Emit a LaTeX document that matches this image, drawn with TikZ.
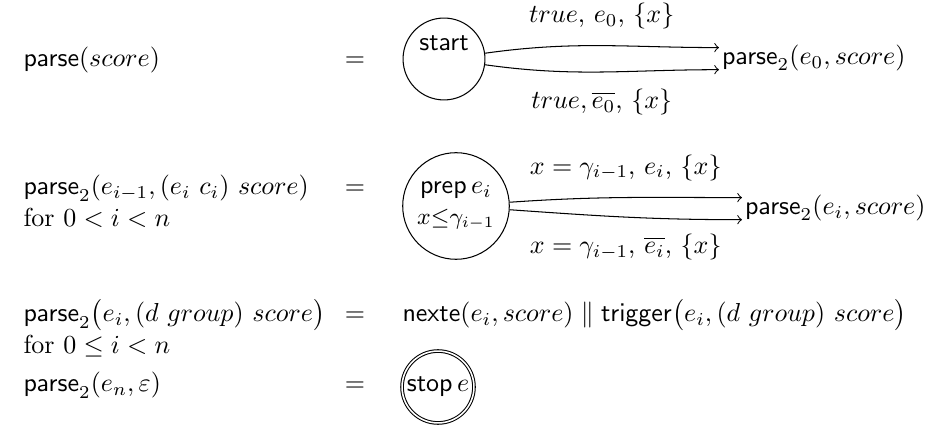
\documentclass[tikz,border=0pt]{standalone}
\usepackage{amsmath}
\usepackage{amssymb}
\usetikzlibrary{positioning}

\begin{document}
\begin{tikzpicture}[x=0.01352cm, y=-0.01352cm,
    txt/.style={anchor=base west, inner sep=0pt},
    eqsign/.style={anchor=base, inner sep=0pt},
    state/.style={draw, circle, inner sep=0pt, align=center}]
  \useasboundingbox (0,0) rectangle (938,442);

  % parse(score)
  \node[txt] (l1) at (23,67) {$\mathsf{parse}(score)$};
  \node[eqsign] (q1) at (355,67) {$=$};
  \node[state, minimum size=31.5pt] (start) at (444,59) {\textsf{start}\\\mbox{}};
  \node[anchor=west, inner sep=1pt] (p0) at (719,58) {$\mathsf{parse}_2(e_0, score)$};
  \draw[->] (start.8) to[out=8, in=180] node[above=3pt] {$true$, $e_0$, $\{x\}$} ([yshift=4pt]p0.west);
  \draw[->] (start.-8) to[out=-8, in=180] node[below=3pt] {$true,\overline{e_0}$, $\{x\}$} ([yshift=-4.5pt]p0.west);

  % parse_2 for 0<i<n
  \node[txt] (l2) at (23,195) {$\mathsf{parse}_2(e_{i-1},(e_i\ c_i)\ score)$};
  \node[txt] (c2) at (23,227) {for $0<i<n$};
  \node[eqsign] (q2) at (355,195) {$=$};
  \node[state, minimum size=41pt] (prep) at (456,206) {$\mathsf{prep}\,e_i$\\{\small $x{\le}\gamma_{i-1}$}};
  \node[anchor=west, inner sep=1pt] (p1) at (742,208) {$\mathsf{parse}_2(e_i, score)$};
  \draw[->] (prep.4) to[out=4, in=180] node[above=3pt] {$x=\gamma_{i-1}$, $e_i$, $\{x\}$} ([yshift=4pt]p1.west);
  \draw[->] (prep.-4) to[out=-4, in=180] node[below=3pt] {$x=\gamma_{i-1}$, $\overline{e_i}$, $\{x\}$} ([yshift=-4.5pt]p1.west);

  % group
  \node[txt] (l3) at (23,322) {$\mathsf{parse}_2\bigl(e_i,(d\ group)\ score\bigr)$};
  \node[txt] (c3) at (23,354) {for $0\le i<n$};
  \node[eqsign] (q3) at (355,322) {$=$};
  \node[txt] (r3) at (402,322) {$\mathsf{nexte}(e_i, score) \parallel \mathsf{trigger}\bigl(e_i,(d\ group)\ score\bigr)$};

  % end
  \node[txt] (l4) at (23,392) {$\mathsf{parse}_2(e_n,\varepsilon)$};
  \node[eqsign] (q4) at (355,392) {$=$};
  \node[state, double, inner sep=1pt] (stop) at (438,387) {$\mathsf{stop}\,e$};
\end{tikzpicture}
\end{document}
